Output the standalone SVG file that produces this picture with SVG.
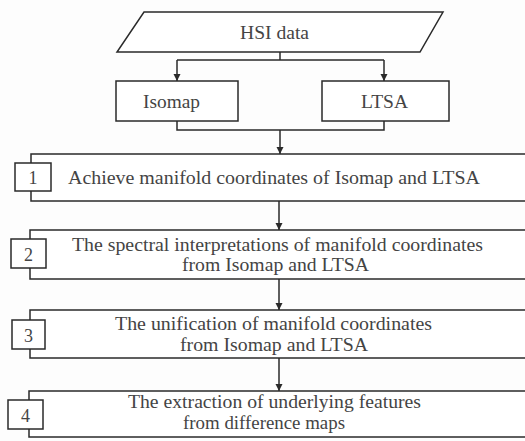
<svg xmlns="http://www.w3.org/2000/svg" width="525" height="441" viewBox="0 0 525 441">
<defs>
<marker id="ah" viewBox="0 0 10 10" refX="10" refY="5" markerWidth="7" markerHeight="8" markerUnits="userSpaceOnUse" orient="auto">
<path d="M0,0 L10,5 L0,10 Z" fill="#2a2a2a"/>
</marker>
<style>
.shape{fill:#fff;stroke:#2a2a2a;stroke-width:1.5}
.num{fill:#fff;stroke:#2a2a2a;stroke-width:1.5}
.t{font-family:"Liberation Serif","Times New Roman",serif;font-size:19px;fill:#444}
.d{font-family:"Liberation Serif","Times New Roman",serif;font-size:18px;fill:#444;text-anchor:middle}
.c{fill:none;stroke:#2a2a2a;stroke-width:1.5}
.ca{fill:none;stroke:#2a2a2a;stroke-width:1.5;marker-end:url(#ah)}
</style>
</defs>
<rect width="525" height="441" fill="#fdfdfd"/>
<g id="connectors">
<path class="c" d="M280,52 V60 M177,60 H384"/>
<path class="ca" d="M177,60 V81"/>
<path class="ca" d="M384,60 V81"/>
<path class="c" d="M177,121 V130 H384 V121"/>
<path class="ca" d="M280,130 V154"/>
<path class="ca" d="M279,201 V230"/>
<path class="ca" d="M279,279 V310"/>
<path class="ca" d="M279,358 V391"/>
</g>
<g id="hsi">
<polygon class="shape" points="144,12 443,12 420,52 117,52"/>
<text class="t" x="240" y="39" textLength="69" lengthAdjust="spacingAndGlyphs">HSI data</text>
</g>
<g id="isomap">
<rect class="shape" x="116" y="81" width="122" height="40"/>
<text class="t" x="143" y="108" textLength="57" lengthAdjust="spacingAndGlyphs">Isomap</text>
</g>
<g id="ltsa">
<rect class="shape" x="322" y="81" width="127" height="40"/>
<text class="t" x="361" y="108" textLength="47" lengthAdjust="spacingAndGlyphs">LTSA</text>
</g>
<g id="step1">
<rect class="shape" x="31" y="154" width="500" height="47"/>
<rect class="num" x="15" y="163" width="36" height="28"/>
<text class="d" x="33" y="184">1</text>
<text class="t" x="68" y="184" textLength="412" lengthAdjust="spacingAndGlyphs">Achieve manifold coordinates of Isomap and LTSA</text>
</g>
<g id="step2">
<rect class="shape" x="30" y="230" width="500" height="49"/>
<rect class="num" x="11" y="239" width="35" height="29"/>
<text class="d" x="28.5" y="261">2</text>
<text class="t" x="72" y="251" textLength="411" lengthAdjust="spacingAndGlyphs">The spectral interpretations of manifold coordinates</text>
<text class="t" x="182" y="271" textLength="187" lengthAdjust="spacingAndGlyphs">from Isomap and LTSA</text>
</g>
<g id="step3">
<rect class="shape" x="30" y="310" width="500" height="48"/>
<rect class="num" x="12" y="320" width="33" height="29"/>
<text class="d" x="28.5" y="342">3</text>
<text class="t" x="115" y="330" textLength="317" lengthAdjust="spacingAndGlyphs">The unification of manifold coordinates</text>
<text class="t" x="180" y="351" textLength="188" lengthAdjust="spacingAndGlyphs">from Isomap and LTSA</text>
</g>
<g id="step4">
<rect class="shape" x="29" y="391" width="500" height="46"/>
<rect class="num" x="8" y="400" width="35" height="29"/>
<text class="d" x="25.5" y="422">4</text>
<text class="t" x="128" y="408" textLength="293" lengthAdjust="spacingAndGlyphs">The extraction of underlying features</text>
<text class="t" x="183" y="429" textLength="162" lengthAdjust="spacingAndGlyphs">from difference maps</text>
</g>
</svg>
